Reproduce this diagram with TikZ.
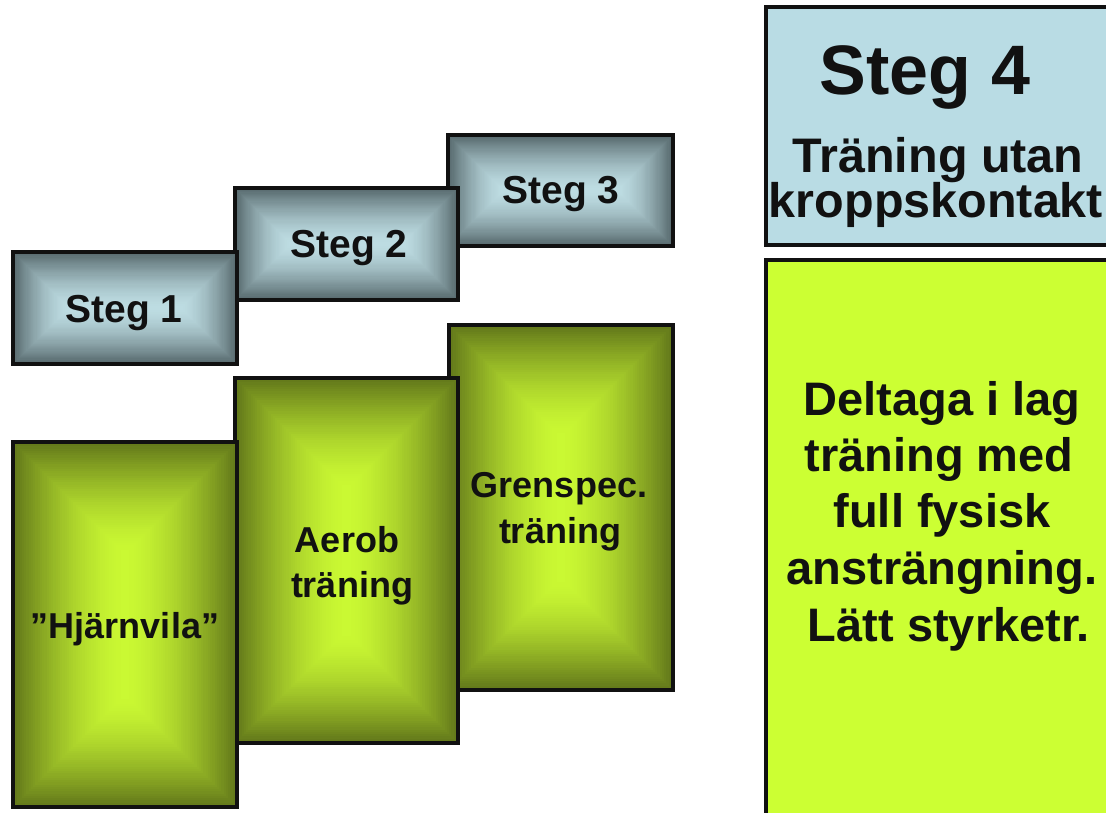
\documentclass[tikz,border=0pt]{standalone}
\usepackage{fontspec}
\setmainfont{Liberation Sans}
\usetikzlibrary{calc}

\definecolor{greyedge}{HTML}{56686C}
\definecolor{greycore}{HTML}{BEDDE3}
\definecolor{oliveedge}{HTML}{62771A}
\definecolor{olivecore}{HTML}{CBFA33}
\definecolor{paleblue}{HTML}{B9DCE4}
\definecolor{lime}{HTML}{CCFF33}
\definecolor{ink}{HTML}{111111}

% "pillow" fill: nested rectangles, each inset a little further and a
% little lighter, so the colour rises from the border to the inner ridge
\newcommand\pillowfill[2]{%
  \foreach \k in {0,...,50} {
    \pgfmathtruncatemacro\pct{100*(1-(1-\k/50)^1.6)}
    \fill[#2!\pct!#1] let \p1=(path picture bounding box.south west),
      \p2=(path picture bounding box.north east),
      \n1={min(\x2-\x1,\y2-\y1)/2*\k/50} in
      (\x1+\n1,\y1+\n1) rectangle (\x2-\n1,\y2-\n1);
  }%
}

\tikzset{
  box/.style={draw=ink, line width=3.4pt, inner sep=0pt},
  stepbox/.style={box, fill=greyedge, path picture={\pillowfill{greyedge}{greycore}}},
  phasebox/.style={box, fill=oliveedge, path picture={\pillowfill{oliveedge}{olivecore}}},
  txt/.style={anchor=base, inner sep=0pt, text=ink, font=\bfseries},
}

\begin{document}
\begin{tikzpicture}[x=1pt, y=-1pt]
\useasboundingbox[fill=white] (0,0) rectangle (1106,813);

% upper row: step labels, drawn right to left so the left box lies on top
\node[stepbox, minimum width=225, minimum height=111] (s3) at (560.5,190.5) {};
\node[stepbox, minimum width=223, minimum height=112] (s2) at (346.5,244) {};
\node[stepbox, minimum width=224, minimum height=112] (s1) at (125,308) {};

\node[txt, font=\bfseries\fontsize{39}{47}\selectfont] (t3) at (561,204) {Steg 3};
\node[txt, font=\bfseries\fontsize{39}{47}\selectfont] (t2) at (349,258) {Steg 2};
\node[txt, font=\bfseries\fontsize{39}{47}\selectfont] (t1) at (124,322) {Steg 1};

% lower row: content of each step
\node[phasebox, minimum width=224, minimum height=365] (g3) at (561,507.5) {};
\node[phasebox, minimum width=223, minimum height=365] (g2) at (346.5,560.5) {};
\node[phasebox, minimum width=224, minimum height=365] (g1) at (125,624.5) {};

\node[txt, font=\bfseries\fontsize{36}{45}\selectfont] (h1) at (125,638) {”Hjärnvila”};
\node[txt, font=\bfseries\fontsize{36}{45}\selectfont] (a1) at (347,552) {Aerob};
\node[txt, font=\bfseries\fontsize{36}{45}\selectfont] (a2) at (352,597) {träning};
\node[txt, font=\bfseries\fontsize{36}{45}\selectfont] (c1) at (559,497) {Grenspec.};
\node[txt, font=\bfseries\fontsize{36}{45}\selectfont] (c2) at (560,543) {träning};

% step 4 panel
\node[box, fill=paleblue, minimum width=349, minimum height=238] (s4) at (940.5,126) {};
\node[txt, font=\bfseries\fontsize{70}{80}\selectfont] (t4) at (925,95) {Steg 4};
\node[txt, font=\bfseries\fontsize{48.5}{56}\selectfont] (u1) at (938,173) {Träning utan};
\node[txt, font=\bfseries\fontsize{48.5}{56}\selectfont] (u2) at (936,218) {kroppskontakt};

\node[box, fill=lime, minimum width=349, minimum height=570] (g4) at (940.5,545) {};
\node[txt, font=\bfseries\fontsize{47}{57}\selectfont] (d1) at (942,415) {Deltaga i lag};
\node[txt, font=\bfseries\fontsize{47}{57}\selectfont] (d2) at (939,471) {träning med};
\node[txt, font=\bfseries\fontsize{47}{57}\selectfont] (d3) at (942,527) {full fysisk};
\node[txt, font=\bfseries\fontsize{47}{57}\selectfont] (d4) at (942,584) {ansträngning.};
\node[txt, font=\bfseries\fontsize{47}{57}\selectfont] (d5) at (949,641) {Lätt styrketr.};
\end{tikzpicture}
\end{document}
